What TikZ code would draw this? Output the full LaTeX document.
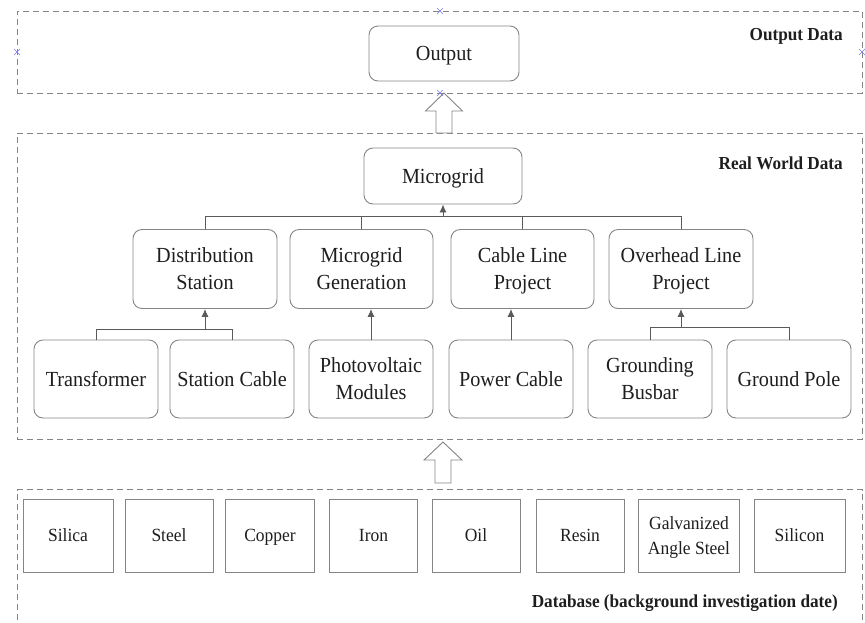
\documentclass[tikz,border=0pt]{standalone}
\usepackage{fontspec}
\setmainfont{Liberation Serif}[FakeStretch=0.94]
\usetikzlibrary{arrows.meta}
\definecolor{edge}{HTML}{858585}
\definecolor{wire}{HTML}{5A5A5A}
\definecolor{ink}{HTML}{1E1E1E}
\definecolor{handle}{HTML}{7A7AF0}
\tikzset{
  rbox/.style={draw=edge, line width=0.9pt, rounded corners=9pt, align=center,
    inner sep=0pt, text=ink, text depth=0pt, font=\fontsize{21.5}{27}\selectfont},
  mbox/.style={draw=edge, line width=0.9pt, align=center, inner sep=0pt,
    minimum width=88pt, minimum height=73pt, text=ink, text depth=0pt,
    font=\fontsize{18.6}{24.3}\selectfont},
  lvltwo/.style={rbox, minimum width=143pt, minimum height=79pt},
  lvlthree/.style={rbox, minimum width=124pt, minimum height=78pt},
  zone/.style={draw=edge, line width=0.9pt, dash pattern=on 6pt off 4pt},
  conn/.style={draw=wire, line width=0.9pt},
  feed/.style={conn, -{Latex[length=8pt,width=7pt]}},
  hollow/.style={draw=edge, line width=0.9pt, fill=white, line join=miter},
  zonelabel/.style={anchor=base east, inner sep=0pt, text=ink,
    font=\fontsize{18.3}{22}\selectfont\bfseries},
  selmark/.style={draw=handle, line width=0.6pt}
}
\begin{document}
\begin{tikzpicture}[x=1pt, y=-1pt]
\useasboundingbox (0,0) rectangle (865,622);

% layer frames
\node[zone, minimum width=845pt, minimum height=82pt, inner sep=0pt] (outzone) at (439.5,52) {};
\node[zone, minimum width=845pt, minimum height=306pt, inner sep=0pt] (realzone) at (439.5,286) {};
\draw[zone] (17,630) -- (17,489.5) -- (862,489.5) -- (862,630);

\node[zonelabel] (outlbl) at (843,40.7) {Output Data};
\node[zonelabel] (reallbl) at (843,169) {Real World Data};
\node[zonelabel] (dblbl) at (838,607.7) {Database (background investigation date)};

% output layer
\node[rbox, minimum width=150pt, minimum height=55pt] (out) at (444,53.5) {Output};

% real world layer
\node[rbox, minimum width=158pt, minimum height=56pt] (micro) at (443,176) {Microgrid};

\node[lvltwo, minimum width=144pt] (ds) at (205,269) {Distribution\\Station};
\node[lvltwo] (mg) at (361.5,269) {Microgrid\\Generation};
\node[lvltwo] (cl) at (522.5,269) {Cable Line\\Project};
\node[lvltwo, minimum width=144pt] (ol) at (681,269) {Overhead Line\\Project};

\node[lvlthree] (tr) at (96,379) {Transformer};
\node[lvlthree] (sc) at (232,379) {Station Cable};
\node[lvlthree] (pv) at (371,379) {Photovoltaic\\Modules};
\node[lvlthree] (pc) at (511,379) {Power Cable};
\node[lvlthree] (gb) at (650,379) {Grounding\\Busbar};
\node[lvlthree] (gp) at (789,379) {Ground Pole};

% tree connectors
\coordinate (busT) at (443,216);
\draw[conn] (ds.north) -- (ds.north |- busT) -- (ol.north |- busT) -- (ol.north);
\draw[conn] (mg.north) -- (mg.north |- busT);
\draw[conn] (cl.north) -- (cl.north |- busT);
\draw[feed] (busT) -- (micro.south);

\coordinate (busD) at (205,329);
\draw[conn] (tr.north) -- (tr.north |- busD) -- (sc.north |- busD) -- (sc.north);
\draw[feed] (busD) -- (ds.south);

\draw[feed] (pv.north) -- (pv.north |- mg.south);
\draw[feed] (pc.north) -- (pc.north |- cl.south);

\coordinate (busO) at (681,327);
\draw[conn] (gb.north) -- (gb.north |- busO) -- (gp.north |- busO) -- (gp.north);
\draw[feed] (busO) -- (ol.south);

% database layer
\node[mbox, minimum width=90pt] (silica) at (68,535.5) {Silica};
\node[mbox] (steel) at (169,535.5) {Steel};
\node[mbox, minimum width=89pt] (copper) at (270,535.5) {Copper};
\node[mbox] (iron) at (373.5,535.5) {Iron};
\node[mbox] (oil) at (476,535.5) {Oil};
\node[mbox] (resin) at (580,535.5) {Resin};
\node[mbox, minimum width=101pt] (galv) at (689,535.5) {Galvanized\\Angle Steel};
\node[mbox, minimum width=91pt] (silicon) at (799.5,535.5) {Silicon};

% hollow block arrows between layers
\coordinate (tipA) at (444,93);
\draw[hollow] (tipA) -- (462.5,111) -- (452,111) -- (452,133) -- (436,133)
  -- (436,111) -- (425.5,111) -- cycle;
\coordinate (tipB) at (443,442);
\draw[hollow] (tipB) -- (462,460) -- (451,460) -- (451,483) -- (435,483)
  -- (435,460) -- (424,460) -- cycle;

% selection handles on the output frame
\foreach \hx/\hy in {440/11, 17/52, 862/52, 440/93}{
  \draw[selmark] (\hx-3,\hy-3) -- (\hx+3,\hy+3) (\hx-3,\hy+3) -- (\hx+3,\hy-3);
}
\end{tikzpicture}
\end{document}
